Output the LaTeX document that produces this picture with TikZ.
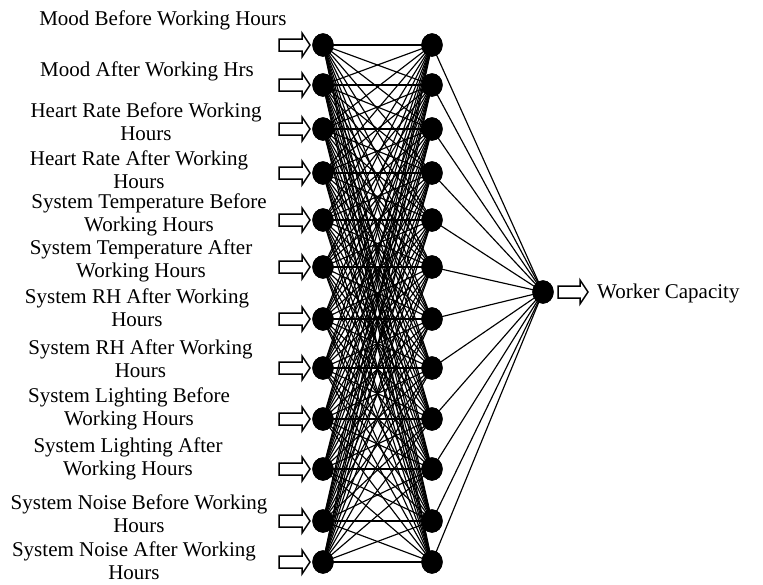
\documentclass[tikz,border=0pt]{standalone}
\usepackage{fontspec}
\setmainfont{Liberation Serif}
\usetikzlibrary{shapes.geometric}
\begin{document}
\begin{tikzpicture}[x=1pt,y=-1pt,
  neuron/.style={ellipse,fill=black,draw=black,minimum width=21pt,minimum height=23pt,inner sep=0pt},
  blockarrow/.style={draw=black,line width=1.5pt,fill=white,line join=miter},
  lbl/.style={align=center,font=\fontsize{21}{23}\selectfont,inner sep=0pt},
  link/.style={line width=1.15pt}]
\useasboundingbox (0,0) rectangle (763,584);

% node rows
\foreach \i/\y in {1/45,2/85,3/129,4/173,5/220,6/267,7/319,8/368,9/419,10/469,11/521,12/562}{
  \node[neuron] (i\i) at (323,\y) {};
  \node[neuron] (h\i) at (432,\y) {};
  \draw[blockarrow] (279,\y-6) -- (302,\y-6) -- (302,\y-12) -- (310,\y) -- (302,\y+12) -- (302,\y+6) -- (279,\y+6) -- cycle;
}
\node[neuron] (o) at (543,292) {};
\draw[blockarrow] (558,292-6) -- (580,292-6) -- (580,292-12) -- (588,292) -- (580,292+12) -- (580,292+6) -- (558,292+6) -- cycle;
\node[lbl,anchor=west] (out) at (597,293) {Worker Capacity};

% connections
\foreach \i in {1,...,12}{
  \foreach \j in {1,...,12}{
    \draw[link] (i\i.center) -- (h\j.center);
  }
  \draw[link] (h\i.center) -- (o.center);
}
% nodes on top of the connections
\foreach \i in {1,...,12}{
  \fill (i\i) ellipse (10.5pt and 11.5pt);
  \fill (h\i) ellipse (10.5pt and 11.5pt);
}
\fill (o) ellipse (10.5pt and 11.5pt);

% labels
\node[lbl] (l1) at (163,20) {Mood Before Working Hours};
\node[lbl] (l2) at (147,71) {Mood After Working Hrs};
\node[lbl] (l3) at (146,121.5) {Heart Rate Before Working\\Hours};
\node[lbl] (l4) at (139,170) {Heart Rate After Working\\Hours};
\node[lbl] (l5) at (149,214.5) {System Temperature Before\\Working Hours};
\node[lbl] (l6) at (141,261) {System Temperature After\\Working Hours};
\node[lbl] (l7) at (137,308) {System RH After Working\\Hours};
\node[lbl] (l8) at (140.5,358.5) {System RH After Working\\Hours};
\node[lbl] (l9) at (129,409) {System Lighting Before\\Working Hours};
\node[lbl] (l10) at (128,458.5) {System Lighting After\\Working Hours};
\node[lbl] (l11) at (139,513.5) {System Noise Before Working\\Hours};
\node[lbl] (l12) at (134,561) {System Noise After Working\\Hours};
\end{tikzpicture}
\end{document}
